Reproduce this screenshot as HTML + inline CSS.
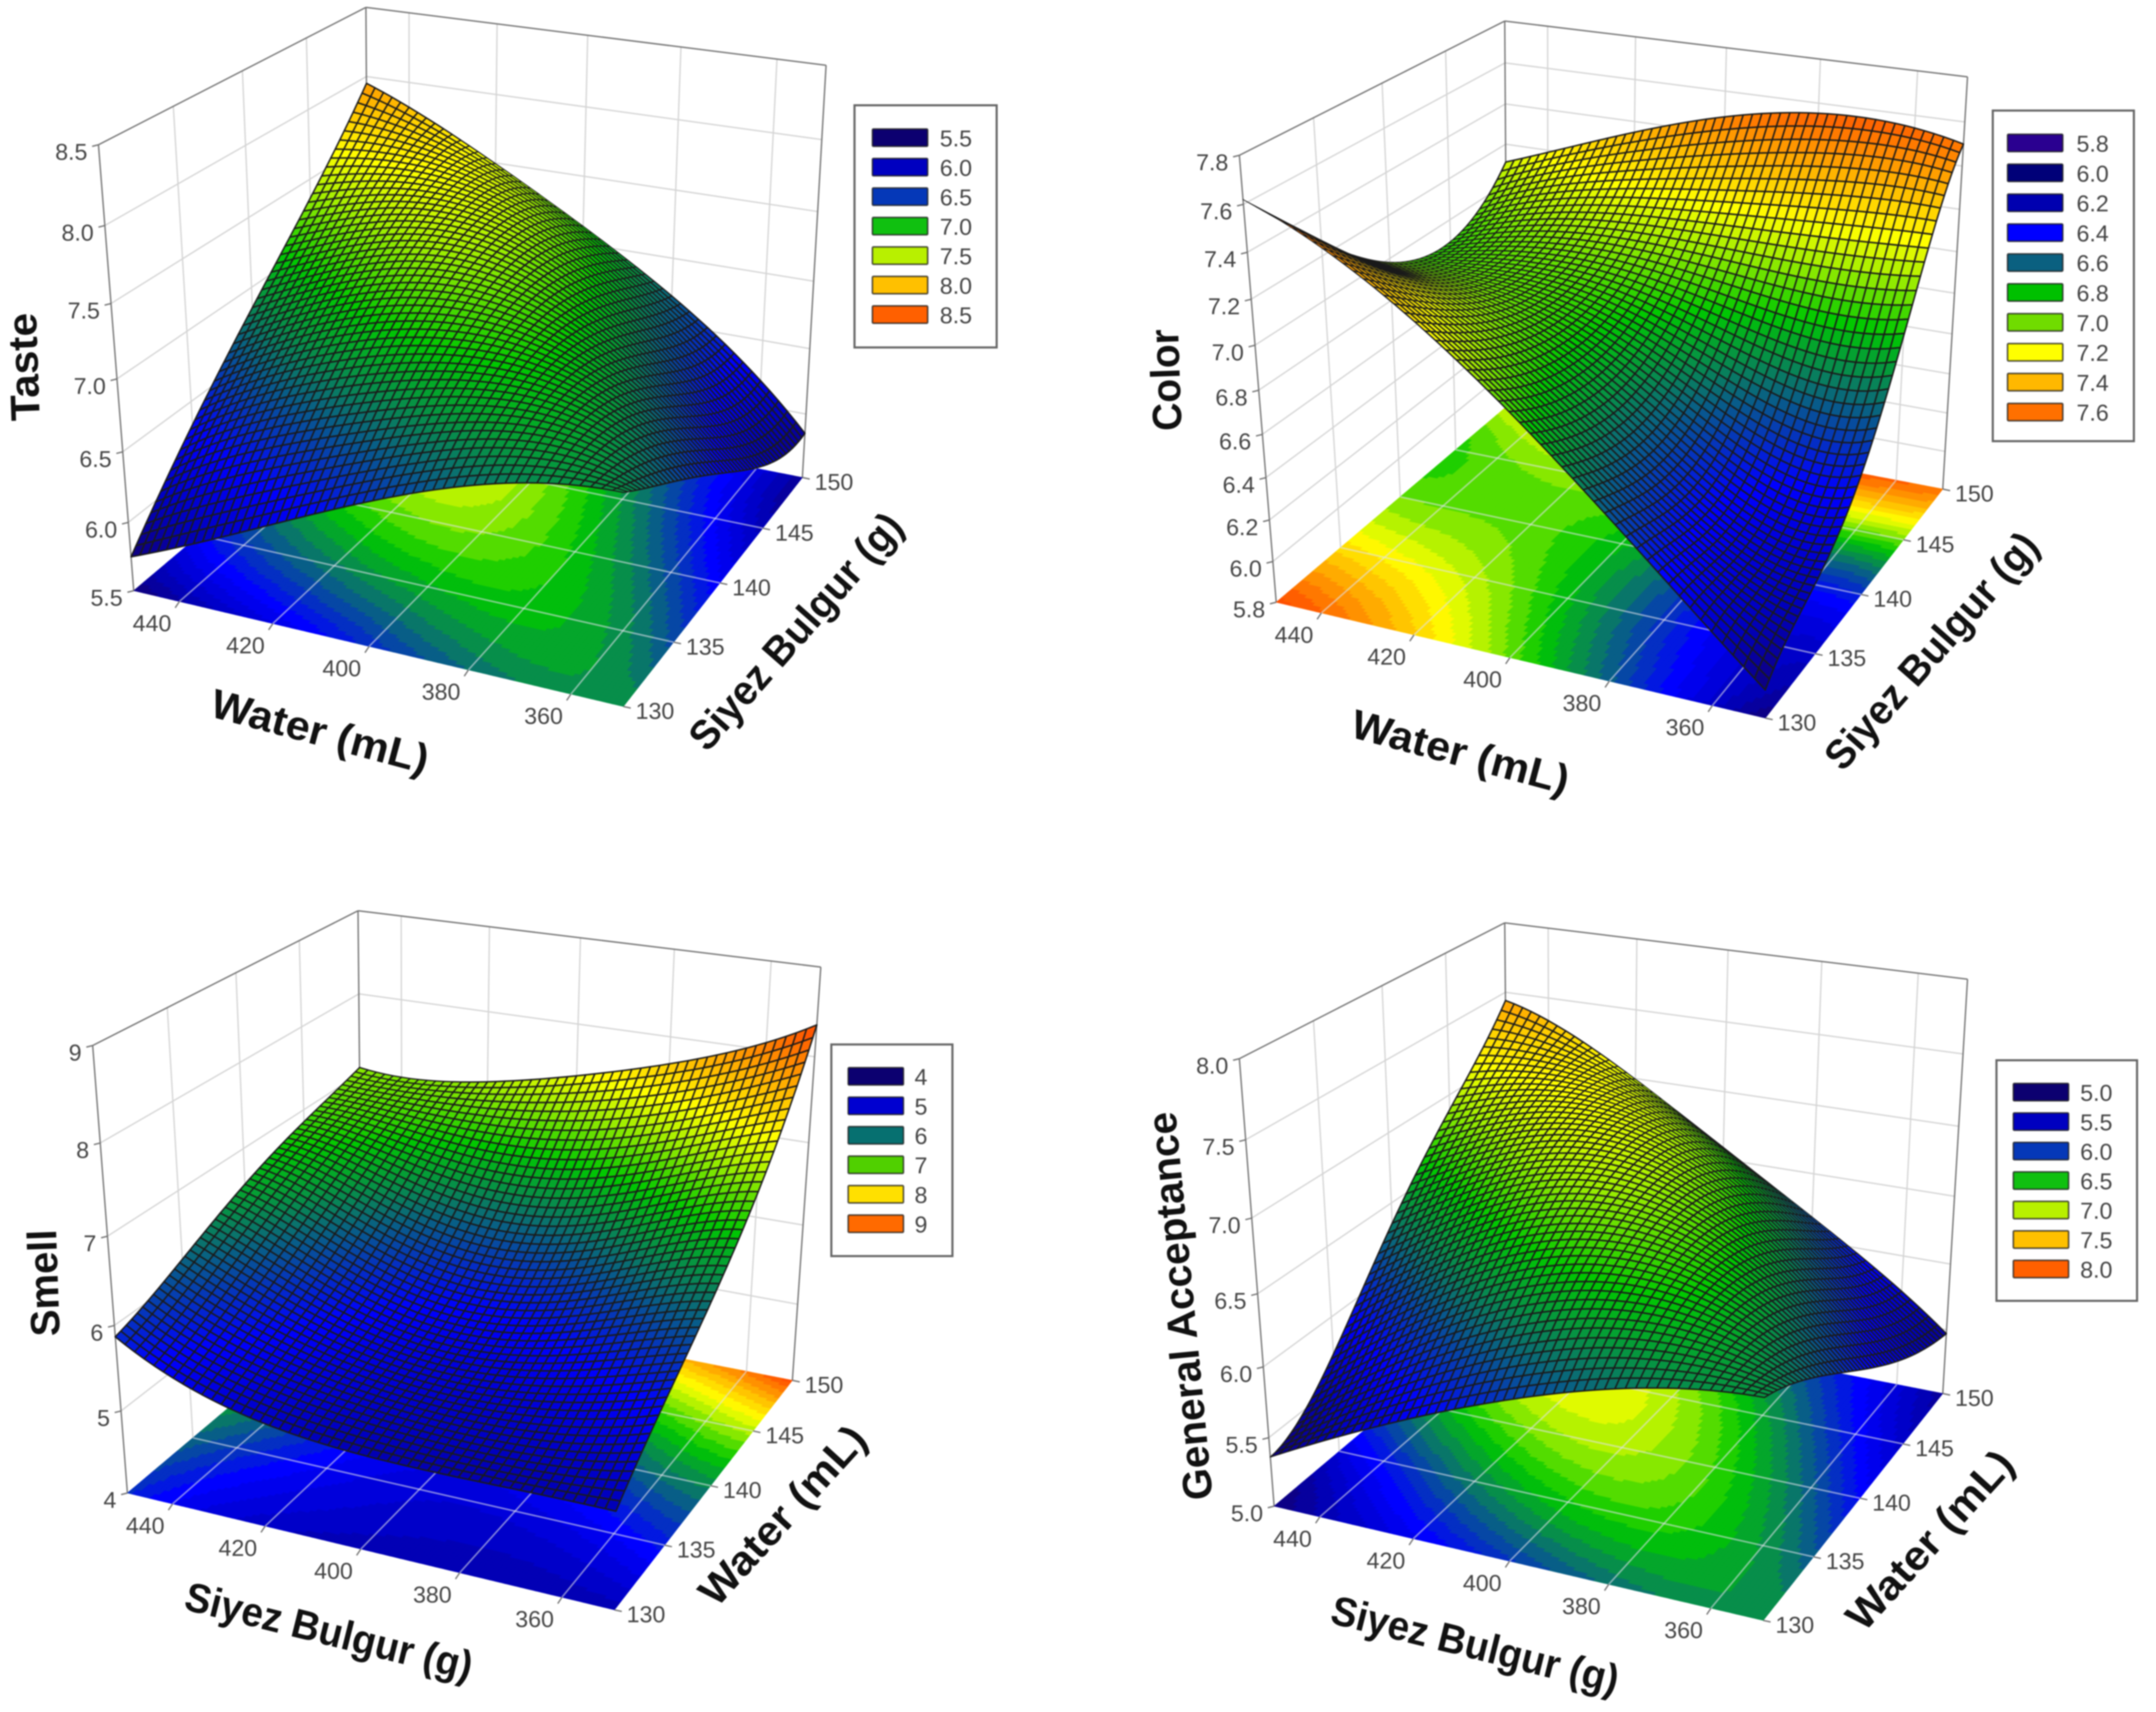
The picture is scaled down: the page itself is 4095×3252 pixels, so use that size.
<!DOCTYPE html>
<html lang="en">
<head>
<meta charset="utf-8">
<title>Response surface plots</title>
<style>
html,body{margin:0;padding:0;background:#fff;}
#figure{display:block;width:4095px;height:3252px;background:#fff;filter:blur(1.4px);}
text{font-family:"Liberation Sans",Arial,sans-serif;}
.tick{font-size:44px;fill:#444;}
.title{font-size:78px;font-weight:bold;fill:#111;}
</style>
</head>
<body>
<svg id="figure" xmlns="http://www.w3.org/2000/svg" width="4095" height="3252" viewBox="0 0 4095 3252"></svg>
<script>
/* ---------- chart data ---------- */
/* Each grid: rows = x axis (450, 425, 400, 375, 350), columns = y axis (130, 135, 140, 145, 150) */
const tasteValues = [
  [5.75, 6.33, 6.85, 7.36, 7.95],
  [6.12, 6.75, 7.20, 7.52, 7.58],
  [6.50, 7.00, 7.30, 7.35, 7.13],
  [6.80, 7.05, 7.00, 6.78, 6.60],
  [6.92, 6.62, 6.30, 5.98, 5.85]
];
const colorValues = [
  [7.62, 7.26, 6.98, 6.89, 7.11],
  [7.36, 7.11, 6.96, 7.01, 7.31],
  [6.96, 6.81, 6.81, 7.01, 7.48],
  [6.46, 6.38, 6.51, 6.96, 7.56],
  [5.93, 6.14, 6.43, 6.98, 7.50]
];
const smellValues = [
  [5.87, 6.20, 6.57, 6.85, 7.08],
  [5.30, 5.65, 6.05, 6.60, 7.10],
  [5.12, 5.37, 5.72, 6.45, 7.38],
  [5.11, 5.42, 5.97, 6.75, 7.77],
  [5.12, 5.77, 6.40, 7.20, 8.36]
];
const acceptanceValues = [
  [5.36, 5.73, 6.35, 6.89, 7.44],
  [5.77, 6.29, 6.79, 7.09, 7.09],
  [6.11, 6.64, 6.94, 6.94, 6.59],
  [6.36, 6.66, 6.64, 6.39, 6.07],
  [6.47, 6.24, 5.93, 5.65, 5.47]
];
const xTicks = [440, 420, 400, 380, 360];
const yTicks = [130, 135, 140, 145, 150];
const tasteZTicks = ["5.5", "6.0", "6.5", "7.0", "7.5", "8.0", "8.5"];
const colorZTicks = ["5.8", "6.0", "6.2", "6.4", "6.6", "6.8", "7.0", "7.2", "7.4", "7.6", "7.8"];
const smellZTicks = ["4", "5", "6", "7", "8", "9"];
const acceptanceZTicks = ["5.0", "5.5", "6.0", "6.5", "7.0", "7.5", "8.0"];
const tasteLegend = ["5.5", "6.0", "6.5", "7.0", "7.5", "8.0", "8.5"];
const colorLegend = ["5.8", "6.0", "6.2", "6.4", "6.6", "6.8", "7.0", "7.2", "7.4", "7.6"];
const smellLegend = ["4", "5", "6", "7", "8", "9"];
const acceptanceLegend = ["5.0", "5.5", "6.0", "6.5", "7.0", "7.5", "8.0"];

/* ---------- layout and style ---------- */
const panels = [
  { key: "taste", values: tasteValues, zTicks: tasteZTicks, legend: tasteLegend,
    colorRange: [5.7, 8.25],
    swatches: ["#0c0070", "#0000c0", "#0538b8", "#10c010", "#b8f000", "#ffc000", "#ff6000"],
    A: [254, 1122], B: [1184, 1342], C: [1524, 907], D: [700, 745],
    At: [187, 275], Dt: [695, 14], Ct: [1569, 124],
    box: [1623, 200, 1893, 660], sw: [1657, 245, 105, 33, 56], lx: 1785,
    titles: [
      { name: "z-axis-title", text: "Taste", x: 45, y: 697, a: -92, len: 205 },
      { name: "x-axis-title", text: "Water (mL)", x: 608, y: 1389, a: 15, len: 425 },
      { name: "y-axis-title", text: "Siyez Bulgur (g)", x: 1511, y: 1199, a: -48.7, len: 570 }
    ] },
  { key: "color", values: colorValues, zTicks: colorZTicks, legend: colorLegend,
    colorRange: [5.9, 7.62],
    swatches: ["#2a0090", "#000078", "#0000b0", "#0000ff", "#0a6080", "#00c000", "#70dc00", "#ffff00", "#ffb800", "#ff7000"],
    A: [2424, 1144], B: [3353, 1364], C: [3690, 929], D: [2863, 771],
    At: [2354, 295], Dt: [2858, 40], Ct: [3737, 146],
    box: [3785, 210, 4053, 838], sw: [3813, 255, 105, 33, 56.8], lx: 3944,
    titles: [
      { name: "z-axis-title", text: "Color", x: 2214, y: 722, a: -92, len: 193 },
      { name: "x-axis-title", text: "Water (mL)", x: 2774, y: 1428, a: 15, len: 425 },
      { name: "y-axis-title", text: "Siyez Bulgur (g)", x: 3668, y: 1236, a: -48.7, len: 570 }
    ] },
  { key: "smell", values: smellValues, zTicks: smellZTicks, legend: smellLegend,
    colorRange: [4.75, 8.35],
    swatches: ["#0c0070", "#0000d0", "#067070", "#50d000", "#ffe000", "#ff6a00"],
    A: [242, 2836], B: [1167, 3058], C: [1505, 2622], D: [687, 2461],
    At: [176, 1986], Dt: [680, 1730], Ct: [1559, 1837],
    box: [1579, 1984, 1809, 2386], sw: [1611, 2028, 105, 33, 56], lx: 1737,
    titles: [
      { name: "z-axis-title", text: "Smell", x: 83, y: 2437, a: -92, len: 203 },
      { name: "x-axis-title", text: "Siyez Bulgur (g)", x: 625, y: 3098, a: 14, len: 560 },
      { name: "y-axis-title", text: "Water (mL)", x: 1486, y: 2878, a: -47.7, len: 430 }
    ] },
  { key: "general-acceptance", values: acceptanceValues, zTicks: acceptanceZTicks, legend: acceptanceLegend,
    colorRange: [5.3, 7.75],
    swatches: ["#0c0070", "#0000c0", "#0538b8", "#10c010", "#b8f000", "#ffc000", "#ff6000"],
    A: [2420, 2861], B: [3349, 3078], C: [3690, 2647], D: [2865, 2486],
    At: [2354, 2011], Dt: [2858, 1753], Ct: [3737, 1860],
    box: [3792, 2014, 4059, 2471], sw: [3824, 2058, 105, 33, 56], lx: 3951,
    titles: [
      { name: "z-axis-title", text: "General Acceptance", x: 2241, y: 2481, a: -95.5, len: 740 },
      { name: "x-axis-title", text: "Siyez Bulgur (g)", x: 2802, y: 3124, a: 14, len: 560 },
      { name: "y-axis-title", text: "Water (mL)", x: 3665, y: 2925, a: -47.7, len: 430 }
    ] }
];

const rampStops = [
  [0.00, [18, 0, 110]], [0.12, [0, 0, 190]], [0.25, [0, 0, 255]], [0.42, [10, 112, 112]],
  [0.55, [0, 200, 0]], [0.66, [160, 238, 0]], [0.74, [255, 255, 0]], [0.85, [255, 176, 0]], [0.97, [255, 90, 0]], [1.00, [255, 80, 0]]
];
const MESH = 50, FLOOR = 100, BANDS = 28, WARP = 0.02;
const NODES = [0, 0.25, 0.5, 0.75, 1];
const svg = document.getElementById("figure");
const NS = "http://www.w3.org/2000/svg";

/* ---------- axis functions ---------- */
function xScale(x) { return (450 - x) / 100; }
function yScale(y) { return (y - 130) / 20; }
function makeProjection(p) {
  const [x0, y0] = p.A, [x1, y1] = p.B, [x2, y2] = p.C, [x3, y3] = p.D;
  const dx1 = x1 - x2, dx2 = x3 - x2, sx = x0 - x1 + x2 - x3;
  const dy1 = y1 - y2, dy2 = y3 - y2, sy = y0 - y1 + y2 - y3;
  const det = dx1 * dy2 - dx2 * dy1;
  const g = (sx * dy2 - dx2 * sy) / det, h = (dx1 * sy - sx * dy1) / det;
  const a = x1 - x0 + g * x1, b = x3 - x0 + h * x3, c = x0;
  const d = y1 - y0 + g * y1, e = y3 - y0 + h * y3, f = y0;
  const tops = [[0, 0, p.At], [0, 1, p.Dt], [1, 1, p.Ct]];
  const bx = [], by = [], X = [], Y = [];
  tops.forEach(([u, v, pt]) => {
    const W = g * u + h * v + 1;
    X.push(pt[0]); Y.push(pt[1]);
    bx.push(pt[0] * W - (a * u + b * v + c));
    by.push(pt[1] * W - (d * u + e * v + f));
  });
  const mean = arr => arr.reduce((s, n) => s + n, 0) / arr.length;
  const mX = mean(X), mY = mean(Y), mbx = mean(bx), mby = mean(by);
  let num = 0, den = 0;
  for (let i = 0; i < 3; i++) {
    num += (X[i] - mX) * (bx[i] - mbx) + (Y[i] - mY) * (by[i] - mby);
    den += (X[i] - mX) ** 2 + (Y[i] - mY) ** 2;
  }
  const r = -num / den, pp = mbx + mX * r, q = mby + mY * r;
  const base = (u, v, tw) => {
    const w = g * u + h * v + r * tw + 1;
    return [(a * u + b * v + pp * tw + c) / w, (d * u + e * v + q * tw + f) / w];
  };
  /* residuals of the fit at the three visible top corners, spread affinely */
  const resid = tops.map(([u, v, pt]) => {
    const m = base(u, v, 1);
    return [pt[0] - m[0], pt[1] - m[1]];
  });
  const RA = resid[0], RD = resid[1], RC = resid[2];
  return function (u, v, t) {
    const tw = t / (1 + WARP * (1 - t));
    const m = base(u, v, tw);
    return [
      m[0] + tw * (RA[0] + u * (RC[0] - RD[0]) + v * (RD[0] - RA[0])),
      m[1] + tw * (RA[1] + u * (RC[1] - RD[1]) + v * (RD[1] - RA[1]))
    ];
  };
}
function lagrange(s) {
  return NODES.map((n, i) => {
    let w = 1;
    NODES.forEach((m, j) => { if (j !== i) w *= (s - m) / (n - m); });
    return w;
  });
}
function sampleSurface(grid, u, v) {
  const wu = lagrange(u), wv = lagrange(v);
  let z = 0;
  for (let i = 0; i < 5; i++) for (let j = 0; j < 5; j++) z += wu[i] * wv[j] * grid[i][j];
  return z;
}
function ramp(t) {
  t = Math.max(0, Math.min(1, t));
  for (let i = 1; i < rampStops.length; i++) {
    if (t <= rampStops[i][0]) {
      const [t0, c0] = rampStops[i - 1], [t1, c1] = rampStops[i];
      const k = (t - t0) / (t1 - t0);
      return "rgb(" + c0.map((c, n) => Math.round(c + (c1[n] - c) * k)).join(",") + ")";
    }
  }
  return "rgb(255,80,0)";
}
function pts(list) { return list.map(q => q[0].toFixed(1) + "," + q[1].toFixed(1)).join(" "); }
function quadArea(q) {
  let s = 0;
  for (let i = 0; i < 4; i++) {
    const a = q[i], b = q[(i + 1) % 4];
    s += a[0] * b[1] - b[0] * a[1];
  }
  return Math.abs(s) / 2;
}
function make(tag, attrs, parent) {
  const n = document.createElementNS(NS, tag);
  for (const k in attrs) n.setAttribute(k, attrs[k]);
  parent.appendChild(n);
  return n;
}
function drawLine(parent, a, b, color, width) {
  return make("line", { x1: a[0], y1: a[1], x2: b[0], y2: b[1], stroke: color, "stroke-width": width }, parent);
}

/* ---------- drawing ---------- */
panels.forEach(p => {
  const P = makeProjection(p);
  const zMin = parseFloat(p.zTicks[0]), zMax = parseFloat(p.zTicks[p.zTicks.length - 1]);
  const zScale = z => (z - zMin) / (zMax - zMin);
  const colorOf = z => ramp((z - p.colorRange[0]) / (p.colorRange[1] - p.colorRange[0]));
  const uTicks = xTicks.map(xScale), vTicks = yTicks.map(yScale);

  const g = make("g", {}, svg);
  
  

  /* walls */
  const walls = make("g", {}, g);
  
  
  p.zTicks.slice(1, -1).forEach(label => {
    const t = zScale(parseFloat(label));
    const a = drawLine(walls, P(0, 0, t), P(0, 1, t), "#d4d4d4", 2.5);
    
    
    const b = drawLine(walls, P(0, 1, t), P(1, 1, t), "#d4d4d4", 2.5);
    
    
  });
  vTicks.slice(1, -1).forEach(v => {
    const a = drawLine(walls, P(0, v, 0), P(0, v, 1), "#d4d4d4", 2.5);
    
    
  });
  uTicks.forEach(u => {
    const a = drawLine(walls, P(u, 1, 0), P(u, 1, 1), "#d4d4d4", 2.5);
    
    
  });
  [[P(0, 0, 0), P(0, 0, 1)], [P(0, 0, 1), P(0, 1, 1)], [P(0, 1, 1), P(1, 1, 1)], [P(1, 1, 1), P(1, 1, 0)], [P(0, 1, 1), P(0, 1, 0)]].forEach(seg => {
    const a = drawLine(walls, seg[0], seg[1], "#707070", 2.5);
    
    
  });

  /* floor contour */
  const floor = make("g", {}, g);
  
  
  for (let i = 0; i < FLOOR; i++) {
    for (let j = 0; j < FLOOR; j++) {
      const u0 = i / FLOOR, u1 = (i + 1) / FLOOR, v0 = j / FLOOR, v1 = (j + 1) / FLOOR;
      const z = sampleSurface(p.values, (u0 + u1) / 2, (v0 + v1) / 2);
      const tc = (z - p.colorRange[0]) / (p.colorRange[1] - p.colorRange[0]);
      const c = ramp(Math.round(tc * BANDS) / BANDS);
      const cell = make("polygon", { points: pts([P(u0, v0, 0), P(u1, v0, 0), P(u1, v1, 0), P(u0, v1, 0)]), fill: c, stroke: c, "stroke-width": 1 }, floor);
      
      
    }
  }
  const floorGrid = make("g", {}, g);
  
  
  uTicks.forEach(u => {
    const a = drawLine(floorGrid, P(u, 0, 0), P(u, 1, 0), "rgba(225,225,235,0.6)", 3);
    
    
  });
  vTicks.slice(1, -1).forEach(v => {
    const a = drawLine(floorGrid, P(0, v, 0), P(1, v, 0), "rgba(225,225,235,0.6)", 3);
    
    
  });

  /* surface, far cells first; line weight follows on-screen cell size */
  const mesh = make("g", { stroke: "#1a1a1a", "stroke-linejoin": "round" }, g);
  
  
  for (let i = 0; i < MESH; i++) {
    for (let j = MESH - 1; j >= 0; j--) {
      const u0 = i / MESH, u1 = (i + 1) / MESH, v0 = j / MESH, v1 = (j + 1) / MESH;
      const q = [
        P(u0, v0, zScale(sampleSurface(p.values, u0, v0))),
        P(u1, v0, zScale(sampleSurface(p.values, u1, v0))),
        P(u1, v1, zScale(sampleSurface(p.values, u1, v1))),
        P(u0, v1, zScale(sampleSurface(p.values, u0, v1)))
      ];
      const z = sampleSurface(p.values, (u0 + u1) / 2, (v0 + v1) / 2);
      const sw = Math.max(1.4, Math.min(2.8, 0.2 * Math.sqrt(quadArea(q))));
      const cell = make("polygon", { points: pts(q), fill: colorOf(z), "stroke-width": sw.toFixed(2) }, mesh);
      
      
    }
  }

  /* ticks and labels */
  p.zTicks.forEach(label => {
    const q = P(0, 0, zScale(parseFloat(label)));
    const mark = drawLine(g, q, [q[0] - 12, q[1] + 3], "#707070", 2.5);
    
    
    const t = make("text", { x: q[0] - 21, y: q[1] + 14, "text-anchor": "end", "dominant-baseline": "central", class: "tick" }, g);
    t.textContent = label;
    
    
  });
  xTicks.forEach(value => {
    const q = P(xScale(value), 0, 0);
    const mark = drawLine(g, q, [q[0] - 8, q[1] + 12], "#707070", 2.5);
    
    
    const t = make("text", { x: q[0] - 52, y: q[1] + 42, "text-anchor": "middle", "dominant-baseline": "central", class: "tick" }, g);
    t.textContent = value;
    
    
  });
  yTicks.forEach(value => {
    const q = P(1, yScale(value), 0);
    const mark = drawLine(g, q, [q[0] + 14, q[1] + 3], "#707070", 2.5);
    
    
    const t = make("text", { x: q[0] + 60, y: q[1] + 9, "text-anchor": "middle", "dominant-baseline": "central", class: "tick" }, g);
    t.textContent = value;
    
    
  });

  /* titles */
  p.titles.forEach(ti => {
    const t = make("text", { x: ti.x, y: ti.y, "text-anchor": "middle", "dominant-baseline": "central", class: "title",
      textLength: ti.len, lengthAdjust: "spacingAndGlyphs", transform: "rotate(" + ti.a + " " + ti.x + " " + ti.y + ")" }, g);
    t.textContent = ti.text;
    
    
  });

  /* legend */
  const lg = make("g", {}, g);
  
  
  const frame = make("rect", { x: p.box[0], y: p.box[1], width: p.box[2] - p.box[0], height: p.box[3] - p.box[1], fill: "#fff", stroke: "#666", "stroke-width": 4 }, lg);
  
  
  p.legend.forEach((label, i) => {
    const y = p.sw[1] + i * p.sw[4];
    const s = make("rect", { x: p.sw[0], y: y, width: p.sw[2], height: p.sw[3], rx: 2, fill: p.swatches[i], stroke: "rgba(30,30,30,0.75)", "stroke-width": 3 }, lg);
    
    
    const t = make("text", { x: p.lx, y: y + p.sw[3] / 2 + 2, "dominant-baseline": "central", class: "tick" }, lg);
    t.textContent = label;
    
    
  });
});
</script>
</body>
</html>
